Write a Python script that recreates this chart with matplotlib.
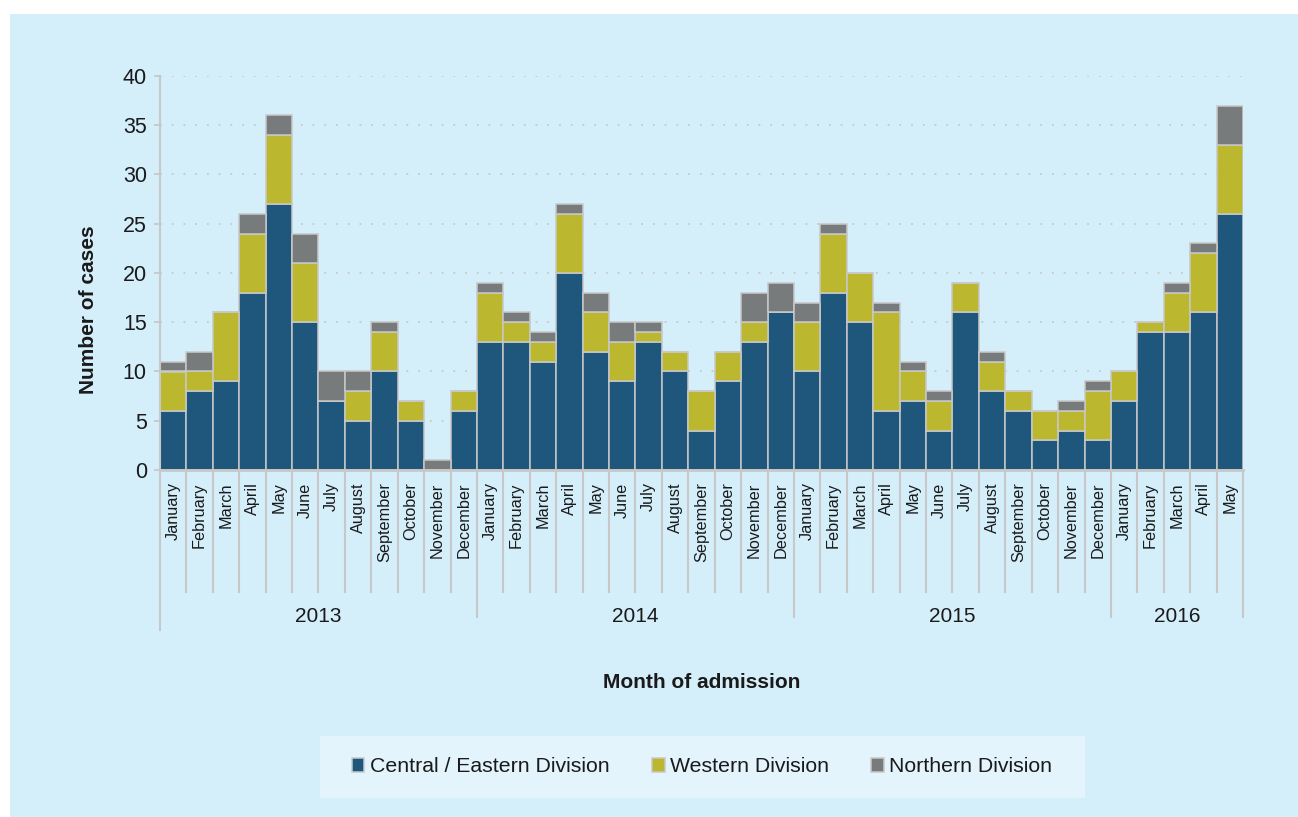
import matplotlib.pyplot as plt
import matplotlib.transforms as mtransforms
from matplotlib.patches import Rectangle
import numpy as np

plt.rcParams['font.family'] = ['Liberation Sans', 'DejaVu Sans']

# 数据：每月入院病例数（2013年1月 - 2016年5月）
month_names = ['January', 'February', 'March', 'April', 'May', 'June', 'July',
               'August', 'September', 'October', 'November', 'December']
months = month_names * 3 + month_names[:5]
years = [2013] * 12 + [2014] * 12 + [2015] * 12 + [2016] * 5

central = [6, 8, 9, 18, 27, 15, 7, 5, 10, 5, 0, 6,
           13, 13, 11, 20, 12, 9, 13, 10, 4, 9, 13, 16,
           10, 18, 15, 6, 7, 4, 16, 8, 6, 3, 4, 3,
           7, 14, 14, 16, 26]
western = [4, 2, 7, 6, 7, 6, 0, 3, 4, 2, 0, 2,
           5, 2, 2, 6, 4, 4, 1, 2, 4, 3, 2, 0,
           5, 6, 5, 10, 3, 3, 3, 3, 2, 3, 2, 5,
           3, 1, 4, 6, 7]
northern = [1, 2, 0, 2, 2, 3, 3, 2, 1, 0, 1, 0,
            1, 1, 1, 1, 2, 2, 1, 0, 0, 0, 3, 3,
            2, 1, 0, 1, 1, 1, 0, 1, 0, 0, 1, 1,
            0, 0, 1, 1, 4]
series_labels = ['Central / Eastern Division', 'Western Division', 'Northern Division']
colors = ['#1f567c', '#bbb830', '#787b7b']

W, H = 1298, 817
bg = '#d4eefa'
line_c = '#c8c8c8'

fig = plt.figure(figsize=(W / 100, H / 100), dpi=100, facecolor='white')
# 浅蓝色背景面板
fig.patches.append(Rectangle((10 / W, 0), 1 - 10 / W, 1 - 14 / H, transform=fig.transFigure,
                             facecolor=bg, edgecolor='none', zorder=-2))
# 图例底框
fig.patches.append(Rectangle((320 / W, 1 - 798 / H), 765 / W, 62 / H, transform=fig.transFigure,
                             facecolor='#e3f4fd', edgecolor='none', zorder=-1))

ax = fig.add_axes([160 / W, 1 - 470 / H, (1243 - 160) / W, (470 - 76) / H])
ax.set_facecolor('none')

x = np.arange(len(months))
c = np.array(central)
w = np.array(western)
n = np.array(northern)
bars_kw = dict(width=1.0, edgecolor=line_c, linewidth=1.1)
ax.bar(x, c, color=colors[0], label=series_labels[0], **bars_kw)
ax.bar(x, w, bottom=c, color=colors[1], label=series_labels[1], **bars_kw)
ax.bar(x, n, bottom=c + w, color=colors[2], label=series_labels[2], **bars_kw)

ax.set_xlim(-0.5, len(months) - 0.5)
ax.set_ylim(0, 40)
ax.set_yticks(range(0, 41, 5))
ax.tick_params(axis='y', length=4.5, width=1.3, color=line_c, pad=5, labelsize=15.5,
               labelcolor='#1a1a1a')
ax.yaxis.grid(True, linestyle=(0, (1, 5.5)), color=line_c, linewidth=1.3)
ax.set_axisbelow(True)

ax.set_xticks(x, months, rotation=90, fontsize=11.7, color='#1a1a1a')
ax.tick_params(axis='x', length=0, pad=9)

for s in ['top', 'right']:
    ax.spines[s].set_visible(False)
ax.spines['left'].set_color(line_c)
ax.spines['left'].set_linewidth(1.5)
ax.spines['bottom'].set_color(line_c)
ax.spines['bottom'].set_linewidth(2)

# 月份和年份分隔线
trans = mtransforms.blended_transform_factory(ax.transData, ax.transAxes)
ax_h = 470 - 76
month_depth = -(592 - 470) / ax_h
year_depth = -(617 - 470) / ax_h
first_depth = -(630 - 470) / ax_h
for i in range(len(months) + 1):
    xb = i - 0.5
    if i == 0:
        d = first_depth
    elif i == len(months) or years[i] != years[i - 1]:
        d = year_depth
    else:
        d = month_depth
    ax.plot([xb, xb], [0, d], transform=trans, color=line_c, linewidth=1.5,
            clip_on=False, zorder=0)

year_y = -(617 - 470) / ax_h
for yr in sorted(set(years)):
    idx = [i for i, v in enumerate(years) if v == yr]
    ax.text(np.mean(idx), year_y, str(yr), transform=trans, ha='center', va='center',
            fontsize=15, color='#1a1a1a')

fig.text(88 / W, 1 - 310 / H, 'Number of cases', rotation=90, ha='center', va='center',
         fontsize=15, fontweight='bold', color='#1a1a1a')
fig.text(702 / W, 1 - 683 / H, 'Month of admission', ha='center', va='center',
         fontsize=15, fontweight='bold', color='#1a1a1a')

handles, labels = ax.get_legend_handles_labels()
leg = fig.legend(handles, labels, loc='center', bbox_to_anchor=(702 / W, 1 - 767 / H),
                 ncol=3, frameon=False, fontsize=15.3, handlelength=0.6, handleheight=0.6,
                 handletextpad=0.25, columnspacing=2.0)
for t in leg.get_texts():
    t.set_color('#1a1a1a')

fig.savefig('out.png', dpi=100, facecolor='white')
